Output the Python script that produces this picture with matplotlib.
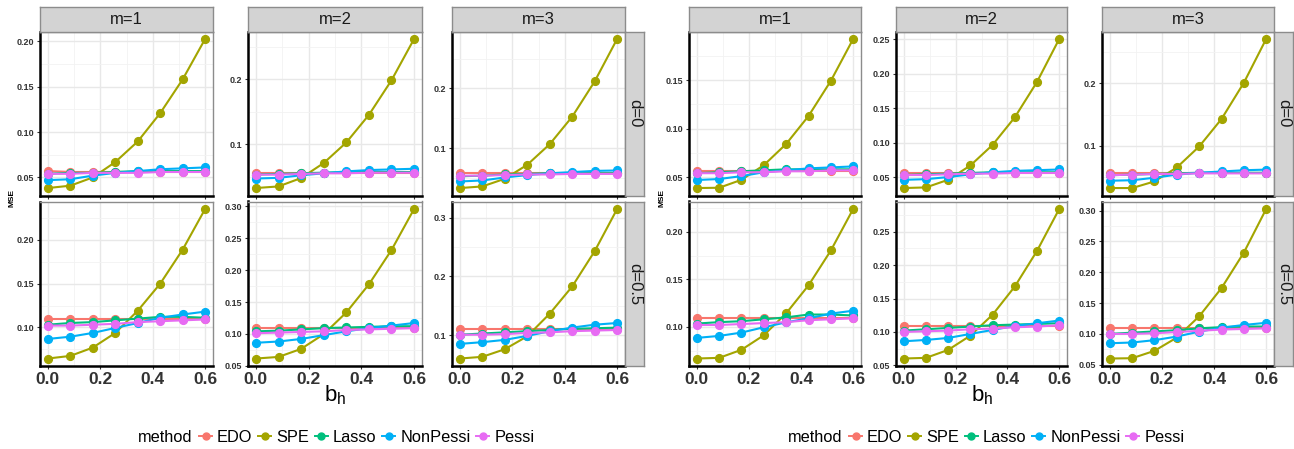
import matplotlib
matplotlib.use("Agg")
import matplotlib.pyplot as plt
from matplotlib.lines import Line2D
from matplotlib.ticker import AutoMinorLocator, FixedLocator, NullFormatter
from matplotlib import font_manager

# ---------------- data ----------------
b_h = [0.0, 0.0857, 0.1714, 0.2571, 0.3429, 0.4286, 0.5143, 0.6]
methods = ["EDO", "SPE", "Lasso", "NonPessi", "Pessi"]
colors = ["#F8766D", "#A3A500", "#00BF7D", "#00B0F6", "#E76BF3"]
m_labels = ["m=1", "m=2", "m=3"]
d_labels = ["d=0", "d=0.5"]
x_ticklabels = ["0.0", "0.2", "0.4", "0.6"]

# order of series in each panel: EDO, SPE, Lasso, NonPessi, Pessi
left_d0_m1 = [
    [0.057, 0.056, 0.056, 0.056, 0.056, 0.056, 0.056, 0.056],
    [0.0383, 0.0409, 0.050, 0.0669, 0.0896, 0.1208, 0.158, 0.2025],
    [0.054, 0.055, 0.055, 0.056, 0.057, 0.057, 0.057, 0.057],
    [0.047, 0.048, 0.052, 0.055, 0.057, 0.059, 0.060, 0.061],
    [0.054, 0.054, 0.055, 0.055, 0.055, 0.056, 0.056, 0.056],
]
left_d0_m2 = [
    [0.0555, 0.0555, 0.0555, 0.0555, 0.0555, 0.0555, 0.0555, 0.0555],
    [0.0323, 0.0348, 0.0477, 0.0708, 0.1025, 0.145, 0.1983, 0.262],
    [0.053, 0.054, 0.055, 0.056, 0.057, 0.057, 0.057, 0.057],
    [0.047, 0.048, 0.052, 0.055, 0.058, 0.060, 0.061, 0.062],
    [0.053, 0.053, 0.054, 0.055, 0.055, 0.056, 0.056, 0.056],
]
left_d0_m3 = [
    [0.058, 0.058, 0.058, 0.058, 0.058, 0.058, 0.058, 0.058],
    [0.0333, 0.036, 0.0488, 0.0722, 0.1067, 0.1527, 0.2117, 0.2827],
    [0.053, 0.054, 0.056, 0.057, 0.058, 0.058, 0.058, 0.058],
    [0.0443, 0.046, 0.051, 0.055, 0.058, 0.060, 0.062, 0.0627],
    [0.054, 0.054, 0.055, 0.056, 0.056, 0.057, 0.057, 0.057],
]
left_d05_m1 = [
    [0.109, 0.109, 0.109, 0.109, 0.109, 0.109, 0.109, 0.109],
    [0.0643, 0.0673, 0.0768, 0.0936, 0.119, 0.150, 0.189, 0.2355],
    [0.103, 0.105, 0.106, 0.108, 0.110, 0.112, 0.112, 0.111],
    [0.0867, 0.0893, 0.0936, 0.0993, 0.105, 0.111, 0.1147, 0.118],
    [0.102, 0.102, 0.103, 0.104, 0.106, 0.107, 0.108, 0.109],
]
left_d05_m2 = [
    [0.109, 0.109, 0.109, 0.109, 0.109, 0.109, 0.109, 0.109],
    [0.0613, 0.0638, 0.0764, 0.0995, 0.1336, 0.1777, 0.2316, 0.296],
    [0.104, 0.105, 0.107, 0.109, 0.110, 0.111, 0.112, 0.112],
    [0.086, 0.088, 0.092, 0.098, 0.104, 0.109, 0.113, 0.117],
    [0.101, 0.102, 0.103, 0.104, 0.106, 0.107, 0.108, 0.109],
]
left_d05_m3 = [
    [0.110, 0.110, 0.110, 0.110, 0.110, 0.110, 0.110, 0.110],
    [0.0605, 0.0634, 0.0763, 0.0983, 0.1368, 0.183, 0.243, 0.3147],
    [0.101, 0.103, 0.105, 0.107, 0.109, 0.111, 0.112, 0.113],
    [0.0854, 0.0883, 0.0922, 0.099, 0.1069, 0.1131, 0.118, 0.1209],
    [0.101, 0.101, 0.102, 0.104, 0.105, 0.107, 0.108, 0.109],
]
right_d0_m1 = [
    [0.0565, 0.0565, 0.0565, 0.0565, 0.0565, 0.0565, 0.0565, 0.0565],
    [0.0387, 0.039, 0.0472, 0.0623, 0.0842, 0.113, 0.1493, 0.1925],
    [0.054, 0.055, 0.056, 0.057, 0.058, 0.058, 0.058, 0.058],
    [0.047, 0.048, 0.051, 0.055, 0.057, 0.059, 0.060, 0.061],
    [0.054, 0.054, 0.055, 0.055, 0.056, 0.056, 0.057, 0.057],
]
right_d0_m2 = [
    [0.0565, 0.0565, 0.0565, 0.0565, 0.0565, 0.0565, 0.0565, 0.0565],
    [0.0341, 0.035, 0.0461, 0.0668, 0.0967, 0.1367, 0.188, 0.2503],
    [0.053, 0.054, 0.055, 0.056, 0.057, 0.057, 0.057, 0.057],
    [0.046, 0.047, 0.050, 0.054, 0.057, 0.059, 0.060, 0.061],
    [0.053, 0.053, 0.054, 0.055, 0.055, 0.056, 0.056, 0.056],
]
right_d0_m3 = [
    [0.0565, 0.0565, 0.0565, 0.0565, 0.0565, 0.0565, 0.0565, 0.0565],
    [0.0325, 0.0325, 0.0431, 0.0654, 0.099, 0.143, 0.201, 0.2711],
    [0.053, 0.054, 0.055, 0.056, 0.057, 0.057, 0.057, 0.057],
    [0.0442, 0.045, 0.049, 0.054, 0.057, 0.059, 0.061, 0.062],
    [0.053, 0.054, 0.055, 0.055, 0.056, 0.056, 0.056, 0.056],
]
right_d05_m1 = [
    [0.1095, 0.1095, 0.1095, 0.1095, 0.1095, 0.1095, 0.1095, 0.1095],
    [0.0667, 0.0674, 0.0759, 0.0912, 0.1143, 0.1437, 0.1804, 0.2241],
    [0.1035, 0.105, 0.106, 0.108, 0.110, 0.113, 0.113, 0.112],
    [0.0884, 0.0905, 0.094, 0.0996, 0.1048, 0.109, 0.114, 0.117],
    [0.102, 0.102, 0.103, 0.104, 0.105, 0.107, 0.108, 0.109],
]
right_d05_m2 = [
    [0.109, 0.109, 0.109, 0.109, 0.109, 0.109, 0.109, 0.109],
    [0.0602, 0.0612, 0.0731, 0.0945, 0.1258, 0.168, 0.2213, 0.284],
    [0.102, 0.104, 0.106, 0.108, 0.110, 0.111, 0.112, 0.113],
    [0.086, 0.088, 0.091, 0.097, 0.103, 0.109, 0.113, 0.117],
    [0.100, 0.101, 0.102, 0.104, 0.105, 0.107, 0.108, 0.110],
]
right_d05_m3 = [
    [0.110, 0.110, 0.110, 0.110, 0.110, 0.110, 0.110, 0.110],
    [0.060, 0.0605, 0.0725, 0.094, 0.1285, 0.1744, 0.232, 0.3028],
    [0.100, 0.102, 0.104, 0.106, 0.109, 0.111, 0.112, 0.112],
    [0.0848, 0.086, 0.0898, 0.0957, 0.1037, 0.110, 0.1145, 0.118],
    [0.100, 0.100, 0.101, 0.103, 0.105, 0.107, 0.108, 0.109],
]

# y tick labels per panel
left_yticks = [
    [["0.05", "0.10", "0.15", "0.20"], ["0.1", "0.2"], ["0.1", "0.2"]],
    [["0.10", "0.15", "0.20"], ["0.05", "0.10", "0.15", "0.20", "0.25", "0.30"], ["0.1", "0.2", "0.3"]],
]
right_yticks = [
    [["0.05", "0.10", "0.15"], ["0.05", "0.10", "0.15", "0.20", "0.25"], ["0.1", "0.2"]],
    [["0.10", "0.15", "0.20"], ["0.05", "0.10", "0.15", "0.20", "0.25"], ["0.05", "0.10", "0.15", "0.20", "0.25", "0.30"]],
]

left_panels = [[left_d0_m1, left_d0_m2, left_d0_m3], [left_d05_m1, left_d05_m2, left_d05_m3]]
right_panels = [[right_d0_m1, right_d0_m2, right_d0_m3], [right_d05_m1, right_d05_m2, right_d05_m3]]

# ---------------- fonts ----------------
avail = {f.name for f in font_manager.fontManager.ttflist}
narrow = "Liberation Sans Narrow" if "Liberation Sans Narrow" in avail else "Liberation Sans"
plt.rcParams["font.family"] = ["Liberation Sans", "DejaVu Sans"]

W, H = 1294, 449
fig = plt.figure(figsize=(W / 100, H / 100), dpi=100)
fig.patch.set_facecolor("white")


def fbox(x0, y0, x1, y1):
    return [x0 / W, 1 - y1 / H, (x1 - x0) / W, (y1 - y0) / H]


row_y = [(31.5, 195.5), (201.5, 366)]
left_cols = [(40, 213), (248, 422), (452, 625)]
right_cols = [(689, 861), (896, 1067), (1102, 1274)]
strip_top = 7


def draw_block(panels, yticks, cols, strip_right):
    for r in range(2):
        for c in range(3):
            x0, x1 = cols[c]
            y0, y1 = row_y[r]
            ax = fig.add_axes(fbox(x0, y0, x1, y1))
            for k in range(5):
                ax.plot(b_h, panels[r][c][k], color=colors[k], lw=1.5,
                        marker="o", markersize=5.6, zorder=3 + k)
            ax.margins(x=0.05, y=0.05)
            labs = yticks[r][c]
            ax.yaxis.set_major_locator(FixedLocator([float(s) for s in labs]))
            ax.set_yticklabels(labs, fontsize=6.5, fontweight="bold",
                               family=narrow, color="#333333")
            ax.yaxis.set_minor_locator(AutoMinorLocator(2))
            ax.xaxis.set_major_locator(FixedLocator([float(s) for s in x_ticklabels]))
            ax.xaxis.set_minor_locator(AutoMinorLocator(2))
            if r == 1:
                ax.set_xticklabels(x_ticklabels, fontsize=12.5, fontweight="bold",
                                   family=narrow, color="#333333")
            else:
                ax.xaxis.set_major_formatter(NullFormatter())
            ax.grid(which="major", color="#E8E8E8", lw=1.0)
            ax.grid(which="minor", color="#F2F2F2", lw=0.6)
            ax.set_axisbelow(True)
            ax.tick_params(which="major", length=2.5, width=0.8, color="#333333", pad=1.5)
            ax.tick_params(which="minor", length=0)
            for s in ("top", "right"):
                ax.spines[s].set_color("#8C8C8C")
                ax.spines[s].set_linewidth(1.0)
            for s in ("left", "bottom"):
                ax.spines[s].set_color("black")
                ax.spines[s].set_linewidth(1.8)
            # top strips
            if r == 0:
                sax = fig.add_axes(fbox(x0, strip_top, x1, 31.5))
                sax.set_facecolor("#D3D3D3")
                sax.set_xticks([]); sax.set_yticks([])
                for sp in sax.spines.values():
                    sp.set_color("#8C8C8C"); sp.set_linewidth(1.0)
                sax.text(0.5, 0.48, m_labels[c], ha="center", va="center",
                         fontsize=12, color="#1A1A1A", transform=sax.transAxes)
            if c == 2:
                sax = fig.add_axes(fbox(x1, y0, strip_right, y1))
                sax.set_facecolor("#D3D3D3")
                sax.set_xticks([]); sax.set_yticks([])
                for sp in sax.spines.values():
                    sp.set_color("#8C8C8C"); sp.set_linewidth(1.0)
                sax.text(0.5, 0.5, d_labels[r], ha="center", va="center",
                         rotation=-90, fontsize=12, color="#1A1A1A",
                         transform=sax.transAxes)


draw_block(left_panels, left_yticks, left_cols, 644)
draw_block(right_panels, right_yticks, right_cols, 1293)

# axis titles
for xc, xm in ((335, 12), (982, 662)):
    fig.text(xc / W, 1 - 395 / H, r"$\mathregular{b_h}$", ha="center", va="center",
             fontsize=16)
    fig.text(xm / W, 1 - 198 / H, "MSE", ha="center", va="center", rotation=90,
             fontsize=6, fontweight="bold")

# legends
handles = [Line2D([0], [0], color=c, lw=1.4, marker="o", markersize=5) for c in colors]
for x_method in (192, 842):
    fig.text(x_method / W, 1 - 437 / H, "method", ha="right", va="center", fontsize=11.8)
    fig.legend(handles, methods, loc="center left",
               bbox_to_anchor=((x_method + 7) / W, 1 - 437 / H), ncol=5, frameon=False,
               fontsize=11.8, handlelength=0.8, handletextpad=0.3,
               columnspacing=0.35, borderaxespad=0, borderpad=0.0)

fig.savefig("out.png", dpi=100, facecolor="white")
